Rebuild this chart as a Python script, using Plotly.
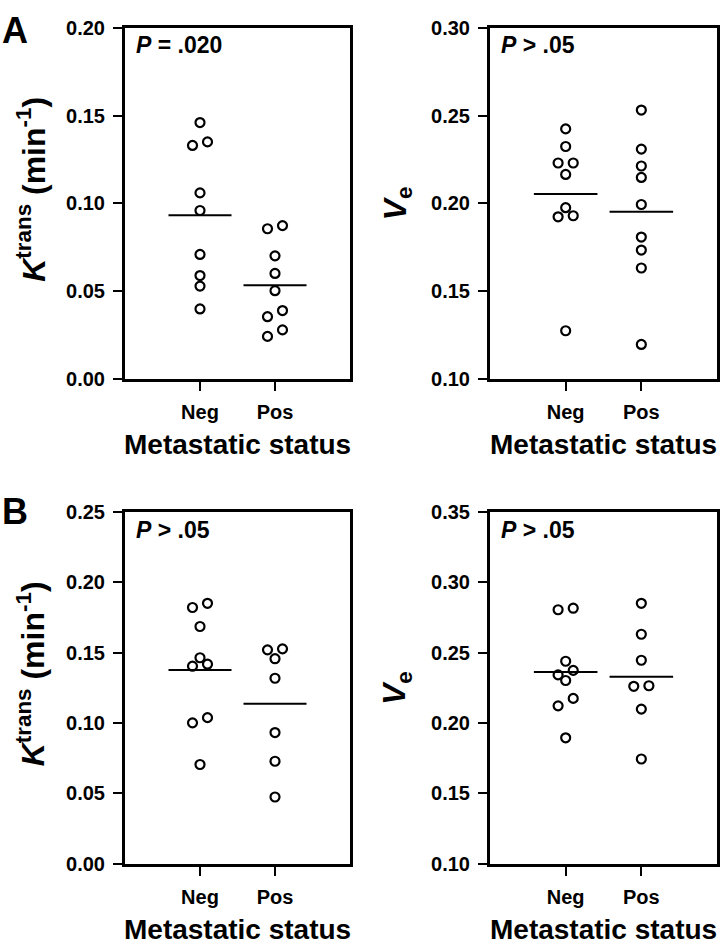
import plotly.graph_objects as go
import numpy as np

# ---------------- data ----------------
categories = ["Neg", "Pos"]

# Panel A, Ktrans (min^-1)
a_ktrans_neg = [0.146, 0.133, 0.135, 0.106, 0.096, 0.071, 0.059, 0.053, 0.040]
a_ktrans_pos = [0.0856, 0.0874, 0.0702, 0.0602, 0.0504, 0.0391, 0.0356, 0.0281, 0.0244]
# Panel A, Ve
a_ve_neg = [0.2424, 0.2324, 0.2230, 0.2230, 0.2165, 0.1976, 0.1924, 0.1930, 0.1276]
a_ve_pos = [0.2531, 0.2309, 0.2213, 0.2148, 0.1994, 0.1809, 0.1735, 0.1633, 0.1198]
# Panel B, Ktrans
b_ktrans_neg = [0.1822, 0.1852, 0.1687, 0.1465, 0.1405, 0.1419, 0.1002, 0.1039, 0.0706]
b_ktrans_pos = [0.1521, 0.1528, 0.1458, 0.1319, 0.0933, 0.0729, 0.0475]
# Panel B, Ve
b_ve_neg = [0.2806, 0.2817, 0.2440, 0.2375, 0.2343, 0.2303, 0.2176, 0.2123, 0.1896]
b_ve_pos = [0.2852, 0.2632, 0.2447, 0.2262, 0.2266, 0.2100, 0.1745]

# horizontal jitter side (-1 left, 0 centre, +1 right) for overlapping dots
a_ktrans_neg_side = [0, -1, 1, 0, 0, 0, 0, 0, 0]
a_ktrans_pos_side = [-1, 1, 0, 0, 0, 1, -1, 1, -1]
a_ve_neg_side = [0, 0, -1, 1, 0, 0, -1, 1, 0]
a_ve_pos_side = [0, 0, 0, 0, 0, 0, 0, 0, 0]
b_ktrans_neg_side = [-1, 1, 0, 0, -1, 1, -1, 1, 0]
b_ktrans_pos_side = [-1, 1, 0, 0, 0, 0, 0]
b_ve_neg_side = [-1, 1, 0, 1, -1, 0, 1, -1, 0]
b_ve_pos_side = [0, 0, 0, -1, 1, 0, 0]

p_labels = ["<i>P</i> = .020", "<i>P</i> > .05", "<i>P</i> > .05", "<i>P</i> > .05"]
ktrans_title = "<i>K</i><sup>trans</sup> (min<sup>-1</sup>)"
ve_title = "<i>V</i><sub>e</sub>"
x_title = "Metastatic status"

# ---------------- layout helpers ----------------
W, H = 720, 952
FONT = "Liberation Sans, Arial, sans-serif"
JIT = 0.1
HALF = 0.42


def px_x(x):
    return x / W


def px_y(y):
    return 1 - y / H


panels = [
    (a_ktrans_neg, a_ktrans_pos, a_ktrans_neg_side, a_ktrans_pos_side, [0, 0.20],
     (125, 350), (17, 377), ktrans_title, (31, 183)),
    (a_ve_neg, a_ve_pos, a_ve_neg_side, a_ve_pos_side, [0.10, 0.30],
     (490, 717), (17, 377), ve_title, (397, 197)),
    (b_ktrans_neg, b_ktrans_pos, b_ktrans_neg_side, b_ktrans_pos_side, [0, 0.25],
     (125, 350), (513, 873), ktrans_title, (31, 679)),
    (b_ve_neg, b_ve_pos, b_ve_neg_side, b_ve_pos_side, [0.10, 0.35],
     (490, 717), (513, 873), ve_title, (397, 693)),
]

fig = go.Figure()
layout = {}
annotations = []

for i, (neg, pos, nside, pside, yr, xd, yd, ytitle, ytpos) in enumerate(panels):
    k = "" if i == 0 else str(i + 1)
    xa, ya = "x" + k, "y" + k
    for ci, (vals, side) in enumerate([(neg, nside), (pos, pside)]):
        cx = ci + 1
        xs = [cx + s * JIT for s in side]
        fig.add_trace(go.Scatter(
            x=xs, y=vals, mode="markers", xaxis=xa, yaxis=ya,
            marker=dict(symbol="circle-open", size=9, color="black",
                        line=dict(width=2.2, color="black")),
            showlegend=False, hoverinfo="y"))
        m = float(np.mean(vals))
        fig.add_trace(go.Scatter(
            x=[cx - HALF, cx + HALF], y=[m, m], mode="lines", xaxis=xa, yaxis=ya,
            line=dict(color="black", width=2), showlegend=False, hoverinfo="skip"))

    axis_common = dict(
        showline=True, linewidth=3, linecolor="black", mirror=True,
        showgrid=False, zeroline=False, ticks="outside", tickwidth=2,
        tickcolor="black",
        tickfont=dict(family=FONT, size=20, color="black", weight="bold"),
        fixedrange=True,
    )
    layout["xaxis" + k] = dict(
        axis_common, domain=[px_x(xd[0]), px_x(xd[1])], range=[0, 3],
        tickvals=[1, 2], ticktext=categories, ticklen=9, anchor=ya,
        ticklabelstandoff=4)
    layout["yaxis" + k] = dict(
        axis_common, domain=[px_y(yd[1]), px_y(yd[0])], range=yr,
        dtick=0.05, tick0=0, tickformat=".2f", ticklen=9, anchor=xa,
        ticklabelstandoff=4)

    # P-value label (cap centre ~18 px below the frame top)
    annotations.append(dict(
        text=p_labels[i], xref="paper", yref="paper",
        x=px_x(xd[0] + 9), y=px_y(yd[0] + 18), xanchor="left", yanchor="middle",
        showarrow=False, font=dict(family=FONT, size=23, color="black", weight="bold")))
    # y-axis title
    annotations.append(dict(
        text=ytitle, xref="paper", yref="paper",
        x=px_x(ytpos[0]), y=px_y(ytpos[1]), xanchor="center", yanchor="middle",
        textangle=-90, showarrow=False,
        font=dict(family=FONT, size=32, color="black", weight="bold")))
    # x-axis title
    annotations.append(dict(
        text=x_title, xref="paper", yref="paper",
        x=px_x((xd[0] + xd[1]) / 2), y=px_y(yd[1] + 67), xanchor="center",
        yanchor="middle", showarrow=False,
        font=dict(family=FONT, size=28, color="black", weight="bold")))

# panel letters
for letter, ymid in [("A", 19.5), ("B", 512)]:
    annotations.append(dict(
        text=letter, xref="paper", yref="paper", x=px_x(0), y=px_y(ymid),
        xanchor="left", yanchor="middle", showarrow=False,
        font=dict(family=FONT, size=36, color="black", weight="bold")))

fig.update_layout(
    width=W, height=H, margin=dict(l=0, r=0, t=0, b=0),
    paper_bgcolor="white", plot_bgcolor="white",
    annotations=annotations, showlegend=False, **layout)

fig.write_html(
    "out.html",
    config={"displayModeBar": False},
    post_script="document.body.style.margin='0px';document.body.style.overflow='hidden';",
)
